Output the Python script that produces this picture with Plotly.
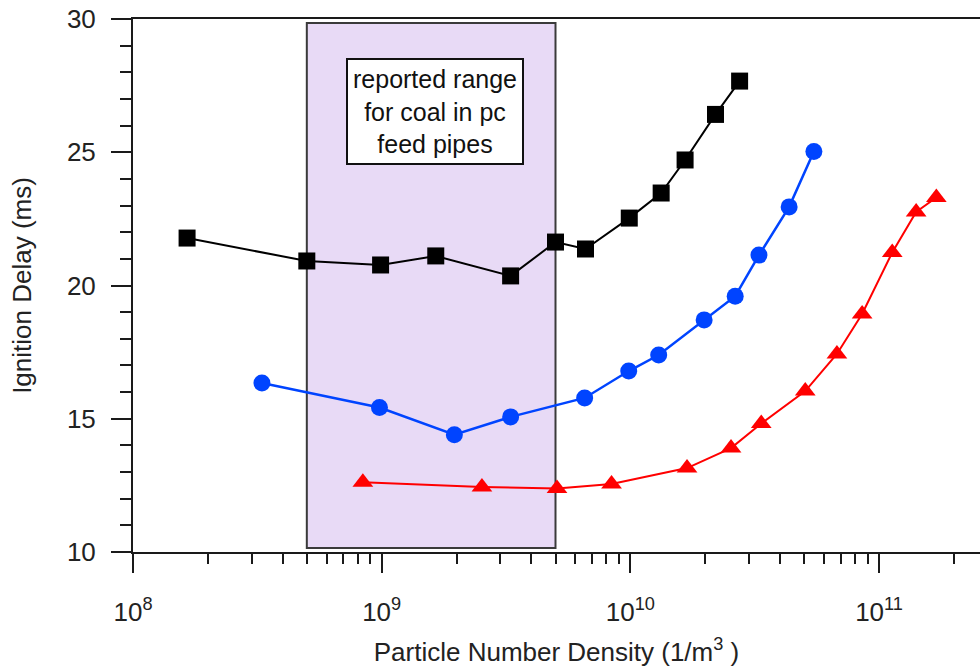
import plotly.graph_objects as go

# ---------------- data ----------------
black_x = [1.65e8, 5.0e8, 9.9e8, 1.65e9, 3.3e9, 5.0e9, 6.6e9, 9.9e9, 1.33e10, 1.66e10, 2.2e10, 2.75e10]
black_y = [21.78, 20.92, 20.77, 21.11, 20.36, 21.63, 21.37, 22.53, 23.47, 24.71, 26.42, 27.67]

blue_x = [3.3e8, 9.8e8, 1.96e9, 3.3e9, 6.55e9, 9.85e9, 1.3e10, 1.98e10, 2.64e10, 3.29e10, 4.35e10, 5.47e10]
blue_y = [16.34, 15.42, 14.40, 15.07, 15.78, 16.79, 17.39, 18.71, 19.60, 21.14, 22.95, 25.03]

red_x = [8.4e8, 2.53e9, 5.07e9, 8.4e9, 1.69e10, 2.54e10, 3.36e10, 5.05e10, 6.77e10, 8.55e10, 1.13e11, 1.41e11, 1.70e11]
red_y = [12.62, 12.44, 12.38, 12.55, 13.15, 13.90, 14.82, 16.04, 17.43, 18.93, 21.24, 22.76, 23.30]

range_lo, range_hi = 5.0e8, 5.0e9          # reported range for coal in pc feed pipes
range_ylo, range_yhi = 10.15, 29.85
range_label = "reported range<br>for coal in pc<br>feed pipes"
label_x_log, label_y = 9.214, 26.53

x_major = [1e8, 1e9, 1e10, 1e11]
x_major_text = ["10<sup>8</sup>", "10<sup>9</sup>", "10<sup>10</sup>", "10<sup>11</sup>"]
x_minor = [k * 10 ** d for d in range(8, 12) for k in range(2, 10)]
y_major = [10, 15, 20, 25, 30]

FONT = "Liberation Sans, Arial, sans-serif"
AX = "#1a1a1a"

fig = go.Figure()
fig.add_shape(type="rect", xref="x", yref="y", x0=range_lo, x1=range_hi,
              y0=range_ylo, y1=range_yhi, fillcolor="#E8DAF6",
              line=dict(color="#3a3a3a", width=2), layer="below")

fig.add_trace(go.Scatter(x=black_x, y=black_y, mode="lines+markers",
                         line=dict(color="#000000", width=2),
                         marker=dict(symbol="square", size=17, color="#000000")))
fig.add_trace(go.Scatter(x=blue_x, y=blue_y, mode="lines+markers",
                         line=dict(color="#0044FF", width=2.5),
                         marker=dict(symbol="circle", size=17, color="#0044FF")))
fig.add_trace(go.Scatter(x=red_x, y=red_y, mode="lines+markers",
                         line=dict(color="#FF0000", width=2),
                         marker=dict(symbol="triangle-up", size=18, color="#FF0000")))

fig.add_annotation(x=label_x_log, y=label_y, xref="x", yref="y", text=range_label,
                   showarrow=False, font=dict(family=FONT, size=25, color="#111"),
                   bgcolor="white", bordercolor="#111", borderwidth=2, borderpad=5)

fig.update_layout(
    width=980, height=670,
    margin=dict(l=133, r=0, t=19, b=118),
    paper_bgcolor="white", plot_bgcolor="white",
    showlegend=False,
    font=dict(family=FONT, size=26, color="#222"),
)
fig.update_xaxes(
    type="log", range=[8, 11.406],
    tickmode="array", tickvals=x_major, ticktext=x_major_text,
    ticks="outside", ticklen=19, tickwidth=2, tickcolor=AX,
    minor=dict(tickmode="array", tickvals=x_minor, ticks="outside",
               ticklen=10, tickwidth=2, tickcolor=AX),
    showline=True, linecolor=AX, linewidth=2, mirror=True,
    showgrid=False, zeroline=False,
    ticklabelstandoff=17,
    tickfont=dict(size=26),
    title=dict(text="Particle Number Density (1/m<sup>3</sup> )", standoff=17,
               font=dict(size=26)),
)
fig.update_yaxes(
    range=[10, 30], tickmode="array", tickvals=y_major,
    ticks="outside", ticklen=20, tickwidth=2, tickcolor=AX,
    minor=dict(dtick=1, ticks="outside", ticklen=11, tickwidth=2, tickcolor=AX),
    showline=True, linecolor=AX, linewidth=2, mirror=False,
    showgrid=False, zeroline=False,
    ticklabelstandoff=10,
    tickfont=dict(size=26),
    title=dict(text="Ignition Delay (ms)", standoff=28, font=dict(size=26)),
)

fig.write_html("out.html")
